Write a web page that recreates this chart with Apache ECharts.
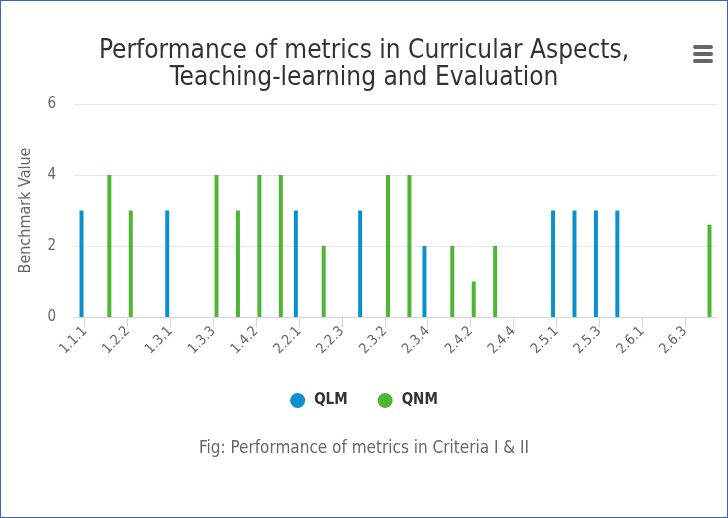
<!DOCTYPE html>
<html>
<head>
<meta charset="utf-8">
<script src="https://cdn.jsdelivr.net/npm/echarts@6/dist/echarts.min.js"></script>
<style>
html,body{margin:0;padding:0;background:#fff;}
#wrap{position:absolute;left:0;top:0;width:726px;height:516px;border:1px solid #3a62b5;}
#chart{width:726px;height:516px;}
</style>
</head>
<body>
<div id="wrap"><div id="chart"></div></div>
<script>
var categories = ['1.1.1','1.2.1','1.2.2','1.2.3','1.3.1','1.3.2','1.3.3','1.4.1','1.4.2','2.1.1',
  '2.2.1','2.2.2','2.2.3','2.3.1','2.3.2','2.3.3','2.3.4','2.4.1','2.4.2','2.4.3',
  '2.4.4','2.4.5','2.5.1','2.5.2','2.5.3','2.5.4','2.6.1','2.6.2','2.6.3','2.7.1'];
var qlmValues = [3,null,null,null,3,null,null,null,null,null,
  3,null,null,3,null,null,2,null,null,null,
  null,null,3,3,3,3,null,null,null,null];
var qnmValues = [null,4,3,null,null,null,4,3,4,4,
  null,2,null,null,4,4,null,2,1,2,
  null,null,null,null,null,null,null,null,null,2.6];
var yTicks = [0,2,4,6];

var chart = echarts.init(document.getElementById('chart'));
var font = 'DejaVu Sans Condensed, DejaVu Sans, sans-serif';
chart.setOption({
  animation: false,
  textStyle: {fontFamily: font},
  title: {
    text: 'Performance of metrics in Curricular Aspects,\nTeaching-learning and Evaluation',
    left: 'center', top: 32,
    textStyle: {fontFamily: font, fontSize: 26, fontWeight: 'normal', color: '#333', lineHeight: 27}
  },
  graphic: [
    {type:'rect', right: 14, top: 44, shape:{width:20,height:4,r:2}, style:{fill:'#666'}},
    {type:'rect', right: 14, top: 51, shape:{width:20,height:4,r:2}, style:{fill:'#666'}},
    {type:'rect', right: 14, top: 58, shape:{width:20,height:4,r:2}, style:{fill:'#666'}},
    {type:'text', left: 'center', top: 439, style:{text:'Fig: Performance of metrics in Criteria I & II', fontFamily: font, fontSize: 17, fill:'#666'}}
  ],
  legend: {
    data: ['QLM','QNM'], top: 387, left: 'center',
    icon: 'circle', itemWidth: 15, itemHeight: 15, itemGap: 30,
    textStyle: {fontFamily: font, fontSize: 15, fontWeight: 'bold', color: '#333', padding: [0,0,0,4]}
  },
  grid: {left: 73, right: 10, top: 103, bottom: 200, containLabel: false},
  xAxis: {
    type: 'category', data: categories,
    axisLine: {lineStyle: {color: '#ccd6eb'}},
    axisTick: {show: true, interval: 1, alignWithLabel: true, length: 10, lineStyle: {color: '#ccd6eb'}},
    axisLabel: {interval: 1, rotate: 45, color: '#666', fontSize: 14, fontFamily: font, margin: 12}
  },
  yAxis: {
    type: 'value', min: 0, max: 6, interval: 2,
    name: 'Benchmark Value', nameLocation: 'middle', nameGap: 40,
    nameTextStyle: {color: '#666', fontSize: 16, fontFamily: font},
    axisLabel: {color: '#666', fontSize: 15, fontFamily: font, margin: 18,
      formatter: function(v){ return yTicks.indexOf(v) >= 0 ? String(v) : ''; }},
    splitLine: {lineStyle: {color: '#e6e6e6'}},
    axisLine: {show: false}, axisTick: {show: false}
  },
  series: [
    {name: 'QLM', type: 'bar', data: qlmValues, barWidth: 4, barGap: '60%', itemStyle: {color: '#0b8fcf'}},
    {name: 'QNM', type: 'bar', data: qnmValues, barWidth: 4, barGap: '60%', itemStyle: {color: '#4fb534'}}
  ]
});
</script>
</body>
</html>
